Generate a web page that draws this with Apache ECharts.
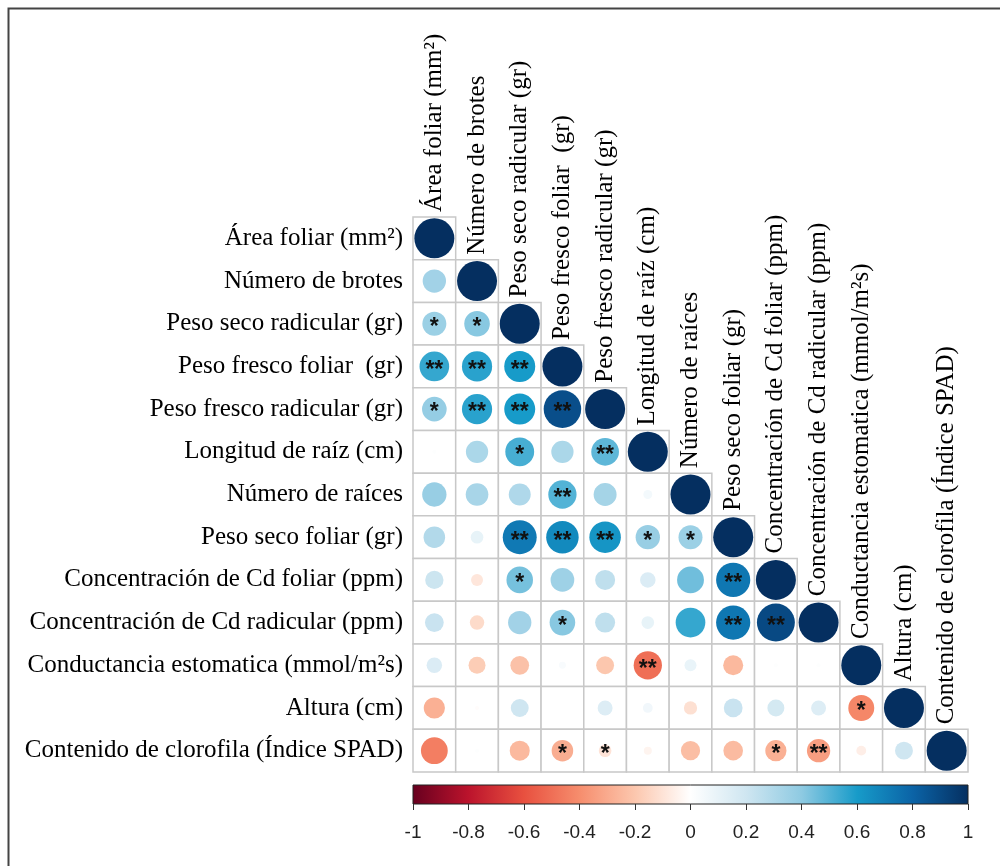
<!DOCTYPE html>
<html>
<head>
<meta charset="utf-8">
<script src="https://cdn.jsdelivr.net/npm/echarts@6/dist/echarts.min.js"></script>
<style>
  body { margin: 0; background: #fff; }
  #corrPlot { width: 1000px; height: 866px; }
</style>
</head>
<body>
<div id="corrPlot"></div>
<script>
// variables (row / column order)
const variables = [
  'Área foliar (mm²)',
  'Número de brotes',
  'Peso seco radicular (gr)',
  'Peso fresco foliar  (gr)',
  'Peso fresco radicular (gr)',
  'Longitud de raíz (cm)',
  'Número de raíces',
  'Peso seco foliar (gr)',
  'Concentración de Cd foliar (ppm)',
  'Concentración de Cd radicular (ppm)',
  'Conductancia estomatica (mmol/m²s)',
  'Altura (cm)',
  'Contenido de clorofila (Índice SPAD)'
];

// lower triangle of the correlation matrix, one row per variable
const corr = [
  [1],
  [0.34, 1],
  [0.36, 0.41, 1],
  [0.55, 0.57, 0.60, 1],
  [0.38, 0.57, 0.60, 0.88, 1],
  [0.01, 0.31, 0.52, 0.31, 0.48, 1],
  [0.37, 0.32, 0.30, 0.50, 0.33, 0.05, 1],
  [0.29, 0.10, 0.72, 0.66, 0.62, 0.37, 0.36, 1],
  [0.21, -0.09, 0.44, 0.35, 0.25, 0.15, 0.45, 0.73, 1],
  [0.22, -0.13, 0.34, 0.41, 0.25, 0.10, 0.55, 0.73, 0.90, 1],
  [0.15, -0.18, -0.22, 0.03, -0.20, -0.50, 0.09, -0.25, 0.01, 0.01, 1],
  [-0.28, -0.01, 0.20, 0.0, 0.14, 0.06, -0.11, 0.22, 0.18, 0.14, -0.42, 1],
  [-0.45, 0.01, -0.25, -0.29, -0.10, -0.04, -0.23, -0.24, -0.28, -0.34, -0.06, 0.20, 1]
];

// significance marks (same layout as corr)
const stars = [
  [''],
  ['', ''],
  ['*', '*', ''],
  ['**', '**', '**', ''],
  ['*', '**', '**', '**', ''],
  ['', '', '*', '', '**', ''],
  ['', '', '', '**', '', '', ''],
  ['', '', '**', '**', '**', '*', '*', ''],
  ['', '', '*', '', '', '', '', '**', ''],
  ['', '', '', '*', '', '', '', '**', '**', ''],
  ['', '', '', '', '', '**', '', '', '', '', ''],
  ['', '', '', '', '', '', '', '', '', '', '*', ''],
  ['', '', '', '*', '*', '', '', '', '*', '**', '', '', '']
];

// colour bar ticks
const barTicks = [-1, -0.8, -0.6, -0.4, -0.2, 0, 0.2, 0.4, 0.6, 0.8, 1];

// RdBu palette
const rdbu = ['#67001f', '#bb132c', '#e8503f', '#f68d6d', '#fcc7ae', '#ffffff',
  '#cfe6f1', '#8ecae2', '#179bc9', '#0b63a6', '#052f60'];

const cells = [];
const points = [];
corr.forEach((row, i) => {
  row.forEach((r, j) => {
    cells.push([j, i]);
    points.push([j, i, r]);
  });
});
const diag = variables.map((v, i) => [i, i]);

const serif = 'Liberation Serif';
const chart = echarts.init(document.getElementById('corrPlot'));

chart.setOption({
  animation: false,
  backgroundColor: '#fff',
  graphic: [
    {
      type: 'rect',
      left: 6,
      top: 6,
      shape: { width: 1010, height: 900 },
      style: { fill: 'none', stroke: '#444', lineWidth: 2 },
      silent: true
    }
  ],
  visualMap: {
    show: false,
    type: 'continuous',
    min: -1,
    max: 1,
    dimension: 2,
    seriesIndex: 1,
    inRange: { color: rdbu }
  },
  grid: [
    { left: 413, top: 217, width: 555, height: 555 },
    {
      // colour bar
      left: 413, top: 785, width: 555, height: 19,
      show: true,
      borderColor: '#222',
      borderWidth: 1,
      backgroundColor: {
        type: 'linear', x: 0, y: 0, x2: 1, y2: 0,
        colorStops: rdbu.map((c, k) => ({ offset: k / (rdbu.length - 1), color: c }))
      }
    }
  ],
  xAxis: [
    {
      type: 'category',
      data: variables,
      show: false
    },
    {
      gridIndex: 1,
      type: 'value',
      min: barTicks[0],
      max: barTicks[barTicks.length - 1],
      interval: 0.2,
      position: 'bottom',
      axisLine: { show: false },
      axisTick: { show: true, length: 6, lineStyle: { color: '#333' } },
      splitLine: { show: false },
      axisLabel: {
        margin: 19,
        fontSize: 19,
        fontFamily: 'Liberation Sans',
        color: '#222',
        formatter: v => String(Math.round(v * 10) / 10)
      }
    }
  ],
  yAxis: [
    {
      type: 'category',
      data: variables,
      inverse: true,
      axisLine: { show: false },
      axisTick: { show: false },
      splitLine: { show: false },
      axisLabel: {
        margin: 10,
        fontSize: 25,
        fontFamily: serif,
        color: '#000'
      }
    },
    { gridIndex: 1, type: 'value', min: 0, max: 1, show: false }
  ],
  series: [
    {
      // cell borders of the lower triangle
      type: 'custom',
      data: cells,
      silent: true,
      renderItem(params, api) {
        const p = api.coord([api.value(0), api.value(1)]);
        const s = api.size([1, 1]);
        return {
          type: 'rect',
          shape: { x: p[0] - s[0] / 2, y: p[1] - s[1] / 2, width: s[0], height: s[1] },
          style: { fill: '#fff', stroke: '#c8c8c8', lineWidth: 1.5 }
        };
      }
    },
    {
      // circles, area ~ |r|
      type: 'scatter',
      data: points,
      symbol: 'circle',
      symbolSize: val => 40 * Math.sqrt(Math.abs(val[2])),
      itemStyle: { opacity: 1 },
      label: {
        show: true,
        position: 'inside',
        offset: [0, 4],
        formatter: p => stars[p.data[1]][p.data[0]],
        fontFamily: 'Liberation Sans',
        fontWeight: 'bold',
        fontSize: 23,
        color: '#111'
      }
    },
    {
      // column names, rotated above the diagonal
      type: 'custom',
      data: diag,
      silent: true,
      clip: false,
      renderItem(params, api) {
        const p = api.coord([api.value(0), api.value(1)]);
        const s = api.size([1, 1]);
        return {
          type: 'text',
          x: p[0],
          y: p[1] - s[1] / 2 - 5,
          rotation: Math.PI / 2,
          style: {
            text: variables[params.dataIndex],
            textAlign: 'left',
            textVerticalAlign: 'middle',
            font: '25px "' + serif + '"',
            fill: '#000'
          }
        };
      }
    }
  ]
});
</script>
</body>
</html>
